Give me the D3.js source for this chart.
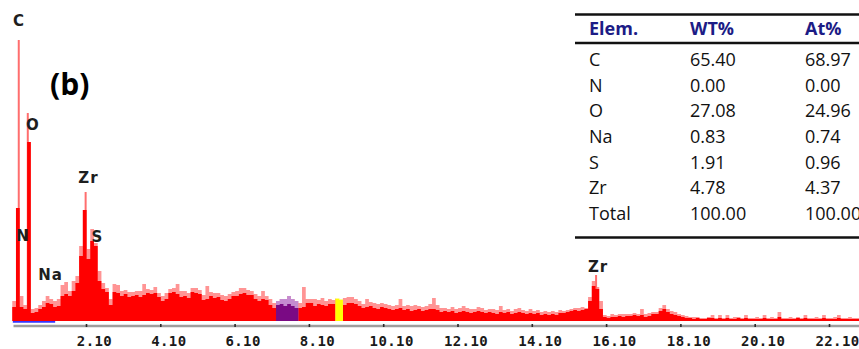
<!DOCTYPE html>
<html>
<head>
<meta charset="utf-8">
<script src="https://cdn.jsdelivr.net/npm/d3@7"></script>
<style>
  html, body { margin: 0; padding: 0; background: #fff; }
  svg { display: block; }
</style>
</head>
<body>
<svg id="chart" width="859" height="349"></svg>
<script>
// ---- EDS spectrum data -------------------------------------------------
// channel counts, first channel starts at 0.115 keV, 0.1 keV per channel
const channelStart = 0.115;
const channelWidth = 0.1;

// solid trace (channel mean)
const counts = [
  14,113, 14, 12,179,  8,  9, 12, 14, 18, 17, 14, 15, 25, 27, 25, 30, 38, 65,111,
  62, 80, 75, 40, 32, 29, 16, 29, 28, 25, 27, 24, 25, 26, 24, 26, 28, 27, 28, 24,
  20, 22, 28, 29, 27, 24, 25, 23, 29, 28, 27, 21, 22, 25, 23, 24, 21, 20, 22, 25,
  25, 27, 28, 26, 26, 22, 20, 22, 21, 16, 13, 16, 17, 15, 17, 15, 13, 13, 14, 18,
  18, 15, 17, 16, 15, 17, 17, 22, 21, 16, 18, 18, 17, 15, 13, 14, 15, 13, 12, 14,
  13, 12, 11, 12, 13, 11, 12, 10, 11, 12, 10, 11, 12, 12, 11,  9, 10,  9, 10,  8,
   9, 10,  9,  8,  9, 10,  9,  8,  9,  8,  7,  9,  8,  9,  7,  8,  9,  8,  7,  8,
   7,  8,  6,  7,  6,  7,  6,  8,  8,  9, 10, 11, 10, 11, 12, 20, 35, 32, 12,  4,
   3,  4,  4,  5,  4,  5,  5,  6,  5,  6,  4,  5,  7,  7, 10, 12,  9,  7,  6,  5,
   4,  3,  3,  2,  3,  2,  2,  3,  3,  2,  3,  2,  3,  2,  2,  3,  2,  3,  2,  2,
   2,  2,  3,  2,  2,  2,  4,  2,  2,  2,  2,  3,  2,  3,  2,  2,  2,  2,  3,  2,
   2,  2,  3,  2,  2,  2,  2,  2
];

// channel maxima (light trace)
const peakCounts = [
  20,113, 25, 16,179, 12, 13, 16, 20, 25, 22, 20, 22, 36, 39, 30, 40, 45, 75,111,
  72, 92, 78, 50, 38, 33, 22, 37, 36, 30, 31, 29, 29, 30, 30, 37, 32, 31, 34, 28,
  25, 28, 32, 33, 37, 30, 30, 28, 33, 33, 31, 26, 35, 29, 28, 28, 26, 25, 27, 29,
  30, 33, 33, 31, 30, 27, 25, 30, 25, 22, 18, 20, 22, 22, 25, 22, 20, 18, 34, 22,
  22, 22, 21, 23, 20, 22, 21, 23, 22, 23, 24, 24, 22, 20, 17, 22, 19, 18, 17, 18,
  17, 16, 15, 16, 22, 15, 16, 15, 16, 15, 14, 15, 17, 23, 16, 13, 13, 12, 14, 12,
  13, 15, 13, 12, 12, 14, 13, 11, 12, 12, 11, 15, 11, 12, 10, 12, 13, 11, 10, 12,
  10, 11,  9, 10,  9, 10,  9, 11, 10, 11, 12, 13, 13, 14, 13, 24, 40, 34, 20,  6,
   5,  7,  6,  7,  7,  7,  7,  8,  7, 12,  7,  8,  9,  9, 13, 16, 12, 10,  9,  7,
   6,  5,  4,  4,  4,  3,  3,  4,  6,  3,  6,  3,  6,  3,  4,  4,  3,  6,  3,  3,
   4,  3,  6,  3,  4,  3,  9,  3,  3,  4,  3,  4,  3,  6,  3,  3,  4,  3,  6,  3,
   3,  4,  6,  3,  3,  4,  3,  3
];

// narrow peak maxima
const lineEnergy = [0.29, 0.533, 2.09, 15.83];
const lineTop = [281, 208, 129, 46];

// identified elements and their line energies (keV)
const elementNames = ["C", "N", "O", "Na", "Zr", "S", "Zr"];
const elementEnergy = [0.277, 0.392, 0.525, 1.041, 2.042, 2.307, 15.775];

// regions of interest (keV)
const roiStart = [7.215, 8.815];
const roiEnd = [7.815, 9.015];

// energy marker bar (keV)
const markerRange = [0.13, 1.27];

// axis ticks (keV)
const tickValues = [2.1, 4.1, 6.1, 8.1, 10.1, 12.1, 14.1, 16.1, 18.1, 20.1, 22.1];

// quantification table
const tableHeader = ["Elem.", "WT%", "At%"];
const tableElements = ["C", "N", "O", "Na", "S", "Zr", "Total"];
const wtPercent = ["65.40", "0.00", "27.08", "0.83", "1.91", "4.78", "100.00"];
const atPercent = ["68.97", "0.00", "24.96", "0.74", "0.96", "4.37", "100.00"];

// ---- drawing -------------------------------------------------------------
const svg = d3.select("#chart");

const x = d3.scaleLinear().domain([0.135, 22.92]).range([13, 859.46]);
const y = d3.scaleLinear().domain([0, 300]).range([321, 21]);

const pts = counts.map((c, i) => ({ e: channelStart + i * channelWidth, r: c, p: peakCounts[i] }));
pts.push({ e: channelStart + counts.length * channelWidth, r: counts[counts.length - 1], p: peakCounts[peakCounts.length - 1] });

const areaPeak = d3.area().x(d => x(d.e)).y0(y(0)).y1(d => y(d.p)).curve(d3.curveStepAfter);
const areaMain = d3.area().x(d => x(d.e)).y0(y(0)).y1(d => y(d.r)).curve(d3.curveStepAfter);

const COLORS = {
  main: "#ff0000",
  light: "#ff9494",
  roi: [["#7a0a84", "#c48bd0"], ["#ffff00", "#ffff8c"]]
};

// light trace behind
svg.append("path").datum(pts).attr("d", areaPeak).attr("fill", COLORS.light);

// narrow peak tops
svg.append("g").selectAll("line")
  .data(lineEnergy.map((e, i) => ({ e, top: lineTop[i] })))
  .join("line")
  .attr("x1", d => x(d.e)).attr("x2", d => x(d.e))
  .attr("y1", y(0)).attr("y2", d => y(d.top))
  .attr("stroke", "#ff6e6e").attr("stroke-width", 2);

// solid trace
svg.append("path").datum(pts).attr("d", areaMain).attr("fill", COLORS.main);

// regions of interest
roiStart.forEach((s, i) => {
  const seg = pts.filter(d => d.e >= s - 1e-6 && d.e < roiEnd[i] - 1e-6);
  const last = seg[seg.length - 1];
  seg.push({ e: roiEnd[i], r: last.r, p: last.p });
  svg.append("path").datum(seg).attr("d", areaPeak).attr("fill", COLORS.roi[i][1]);
  svg.append("path").datum(seg).attr("d", areaMain).attr("fill", COLORS.roi[i][0]);
});

// energy marker bar
svg.append("line")
  .attr("x1", x(markerRange[0])).attr("x2", x(markerRange[1]))
  .attr("y1", y(0) + 0.9).attr("y2", y(0) + 0.9)
  .attr("stroke", "#3434ff").attr("stroke-width", 1.8);

// energy axis
const axis = d3.axisBottom(x)
  .tickValues(tickValues)
  .tickFormat(d3.format(".2f"))
  .tickSizeOuter(0)
  .tickSizeInner(2);

const gAxis = svg.append("g").attr("transform", "translate(0,325.5)").call(axis);
gAxis.select(".domain").attr("stroke", "#9e9e9e").attr("stroke-width", 2.5);
gAxis.selectAll(".tick line")
  .attr("y1", -1.5).attr("y2", 1.5)
  .attr("stroke", "#2a2a2a").attr("stroke-width", 1.6);
gAxis.selectAll(".tick text")
  .attr("y", 20.5).attr("dy", 0).attr("dx", 8)
  .attr("fill", "#1a1a1a")
  .style("font-family", "'DejaVu Sans Mono', monospace")
  .style("font-weight", "bold")
  .style("font-size", "14px")
  .style("letter-spacing", "0.4px");

// element labels: horizontal offset (px) and baseline level (counts)
const labelPlacement = [
  [0.7, 295], [0.5, 80], [5.5, 191], [4.0, 41], [4.6, 138], [3.8, 79], [4.0, 49]
];
svg.append("g").selectAll("text")
  .data(elementNames.map((n, i) => ({ n, e: elementEnergy[i], dx: labelPlacement[i][0], lv: labelPlacement[i][1] })))
  .join("text")
  .attr("x", d => x(d.e) + d.dx)
  .attr("y", d => y(d.lv))
  .attr("text-anchor", "middle")
  .attr("fill", "#1e1e1e")
  .style("font-family", "'DejaVu Sans', sans-serif")
  .style("font-weight", "bold")
  .style("font-size", "15px")
  .style("letter-spacing", "1px")
  .text(d => d.n);

// panel letter
svg.append("text")
  .attr("x", 50).attr("y", 95)
  .style("font-family", "'Open Sans', sans-serif")
  .style("font-weight", "bold")
  .style("font-size", "30px")
  .attr("fill", "#000")
  .text("(b)");

// ---- quantification table ----
const table = svg.append("g");
const colX = [589, 690, 805];
const ruleY = [14.5, 43, 237.5];
ruleY.forEach(ry => {
  table.append("line")
    .attr("x1", 575).attr("x2", 859)
    .attr("y1", ry).attr("y2", ry)
    .attr("stroke", "#111").attr("stroke-width", 2.6);
});

table.selectAll("text.hd")
  .data(tableHeader)
  .join("text")
  .attr("class", "hd")
  .attr("x", (d, i) => colX[i]).attr("y", 35)
  .attr("fill", "#1c1c86")
  .style("font-family", "'Open Sans', sans-serif")
  .style("font-weight", "bold")
  .style("font-size", "18px")
  .text(d => d);

const rows = tableElements.map((el, i) => [el, wtPercent[i], atPercent[i]]);
rows.forEach((row, r) => {
  row.forEach((cell, c) => {
    table.append("text")
      .attr("x", colX[c]).attr("y", 66 + r * 25.65)
      .attr("fill", "#111")
      .style("font-family", "'Open Sans', sans-serif")
      .style("font-size", "18px")
      .text(cell);
  });
});
</script>
</body>
</html>
